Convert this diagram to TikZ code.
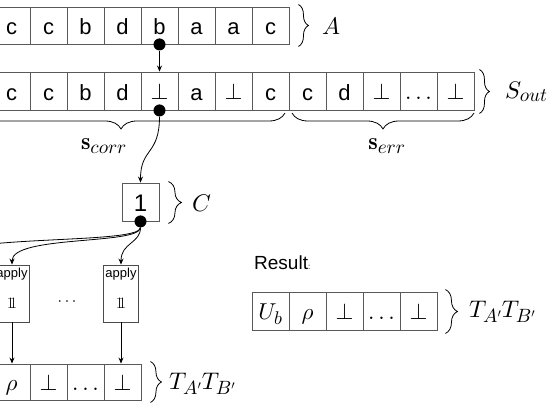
\RequirePackage{fix-cm}
\documentclass[tikz,border=0pt]{standalone}
\usepackage{fontspec}
\IfFileExists{dsfont.sty}{\usepackage{dsfont}}{\providecommand\mathds[1]{\mathrm{1}\mkern-5mu\mathrm{1}}}
\newfontfamily\arialf{Liberation Sans}
\usetikzlibrary{decorations.pathreplacing,arrows.meta}
\DeclareFontShape{OML}{cmm}{m}{it}{<->cmmi10}{}
\DeclareFontShape{OMS}{cmsy}{m}{n}{<->cmsy10}{}
\DeclareFontShape{OT1}{cmr}{bx}{n}{<->cmbx10}{}
\renewcommand\defaultscriptratio{.8}
\begin{document}
\begin{tikzpicture}[x=1pt,y=-1pt,
  cell/.style={draw=black!65, line width=0.9pt, minimum width=37pt, minimum height=37pt, inner sep=0pt, text height=19pt, text depth=0pt, font=\arialf\fontsize{22}{22}\selectfont},
  mcell/.style={cell, text height=18pt, font=\fontsize{23}{23}\selectfont},
  applybox/.style={draw=black!70, line width=0.9pt, minimum width=35pt, minimum height=57pt, inner sep=0pt},
  applytxt/.style={font=\arialf\fontsize{13}{13}\selectfont, inner sep=0pt, anchor=north},
  dot/.style={circle, fill=black, inner sep=0pt, minimum size=12pt},
  arr/.style={-{Stealth[length=6pt,width=5pt]}, line width=0.8pt},
  brace/.style={decorate, decoration={brace, amplitude=#1}, line width=0.8pt},
  lab/.style={font=\fontsize{24}{28}\selectfont, inner sep=0pt, anchor=west}]
\useasboundingbox (0,0) rectangle (550,411);

% Row A
\node[cell] (a1) at (11.5,25.5) {c};
\node[cell] (a2) at (48.5,25.5) {c};
\node[cell] (a3) at (85.5,25.5) {b};
\node[cell] (a4) at (122.5,25.5) {d};
\node[cell] (a5) at (159.5,25.5) {b};
\node[cell] (a6) at (196.5,25.5) {a};
\node[cell] (a7) at (233.5,25.5) {a};
\node[cell] (a8) at (270.5,25.5) {c};
\draw[brace=10pt] ([xshift=9pt,yshift=2pt]a8.north east) -- ([xshift=9pt,yshift=-2pt]a8.south east);
\node[lab] (LA) at (322,26) {$A$};

% Row S_out
\node[cell, minimum height=38pt] (s1) at (11.5,91) {c};
\node[cell, minimum height=38pt] (s2) at (48.5,91) {c};
\node[cell, minimum height=38pt] (s3) at (85.5,91) {b};
\node[cell, minimum height=38pt] (s4) at (122.5,91) {d};
\node[mcell, minimum height=38pt] (s5) at (159.5,91) {$\perp$};
\node[cell, minimum height=38pt] (s6) at (196.5,91) {a};
\node[mcell, minimum height=38pt] (s7) at (233.5,91) {$\perp$};
\node[cell, minimum height=38pt] (s8) at (270.5,91) {c};
\node[cell, minimum height=38pt] (s9) at (307.5,91) {c};
\node[cell, minimum height=38pt] (s10) at (344.5,91) {d};
\node[mcell, minimum height=38pt] (s11) at (381.5,91) {$\perp$};
\node[mcell, minimum height=38pt] (s12) at (418.5,91) {$\ldots$};
\node[mcell, minimum height=38pt] (s13) at (455.5,91) {$\perp$};
\draw[brace=10pt] ([xshift=5pt,yshift=2pt]s13.north east) -- ([xshift=5pt,yshift=-3pt]s13.south east);
\node[lab] (LS) at (505,92) {$S_{out}$};

% braces under S_out
\draw[brace=16pt] (285,113) -- (-43,113);
\node[font=\fontsize{24}{28}\selectfont, inner sep=0pt] (Lcorr) at (104,146) {$\mathbf{s}_{corr}$};
\draw[brace=16pt] (474,113) -- (292,113);
\node[font=\fontsize{24}{28}\selectfont, inner sep=0pt] (Lerr) at (387,146) {$\mathbf{s}_{err}$};

% dots and arrows
\node[dot] (dA) at (a5.south) {};
\draw[arr] (dA) -- (s5.north);
\node[dot] (dS) at (s5.south) {};

% C box
\node[cell, minimum height=38pt, text height=20pt, font=\arialf\fontsize{24}{24}\selectfont] (C) at (140.5,202) {1};
\draw[arr] (dS) .. controls +(0,45) and +(0,-35) .. (C.north);
\draw[brace=13pt] ([xshift=9pt,yshift=1pt]C.north east) -- ([xshift=9pt,yshift=-2pt]C.south east);
\node[lab] (LC) at (192,203) {$C$};
\node[dot] (dC) at (C.south) {};

% apply boxes
\node[applybox] (p1) at (12,293.5) {};
\node[applytxt] (p1t) at ([yshift=-3pt]p1.north) {apply};
\node[font=\fontsize{16}{16}\selectfont, inner sep=0pt] (p1o) at (12,303) {$\mathds{1}$};
\node[applybox] (p2) at (121,293.5) {};
\node[applytxt] (p2t) at ([yshift=-3pt]p2.north) {apply};
\node[font=\fontsize{16}{16}\selectfont, inner sep=0pt] (p2o) at (121,303) {$\mathds{1}$};
\node[font=\fontsize{16}{16}\selectfont, inner sep=0pt] (pdots) at (67,302) {$\cdots$};

\coordinate (off) at (-70,265);
\draw[line width=0.8pt] (dC) .. controls (140,246) and (-70,232) .. (off);
\draw[arr] (dC) .. controls (140,245) and (12,235) .. (p1.north);
\draw[arr] (dC) .. controls +(0,22) and +(0,-22) .. (p2.north);

% bottom row
\node[mcell, minimum height=36pt] (b1) at (11.5,382) {$\rho$};
\node[mcell, minimum height=36pt] (b2) at (48.5,382) {$\perp$};
\node[mcell, minimum height=36pt] (b3) at (85.5,382) {$\ldots$};
\node[mcell, minimum height=36pt] (b4) at (122.5,382) {$\perp$};
\draw[arr] (p1.south) -- (p1.south |- b1.north);
\draw[arr] (p2.south) -- (p2.south |- b4.north);
\draw[brace=11pt] ([xshift=9pt,yshift=2pt]b4.north east) -- ([xshift=9pt,yshift=-2pt]b4.south east);
\node[lab] (LT1) at (169,384) {$T_{A'}T_{B'}$};

% Result
\node[font=\arialf\fontsize{19}{22}\selectfont, inner sep=0pt, anchor=west] (res) at (254,263) {Result{\fontsize{8}{8}\selectfont :}};
\node[mcell, minimum height=38pt] (r1) at (270.5,311) {$U_b$};
\node[mcell, minimum height=38pt] (r2) at (307.5,311) {$\rho$};
\node[mcell, minimum height=38pt] (r3) at (344.5,311) {$\perp$};
\node[mcell, minimum height=38pt] (r4) at (381.5,311) {$\ldots$};
\node[mcell, minimum height=38pt] (r5) at (418.5,311) {$\perp$};
\draw[brace=12pt] ([xshift=8pt,yshift=2pt]r5.north east) -- ([xshift=8pt,yshift=-3pt]r5.south east);
\node[lab] (LT2) at (469,312) {$T_{A'}T_{B'}$};
\end{tikzpicture}
\end{document}
